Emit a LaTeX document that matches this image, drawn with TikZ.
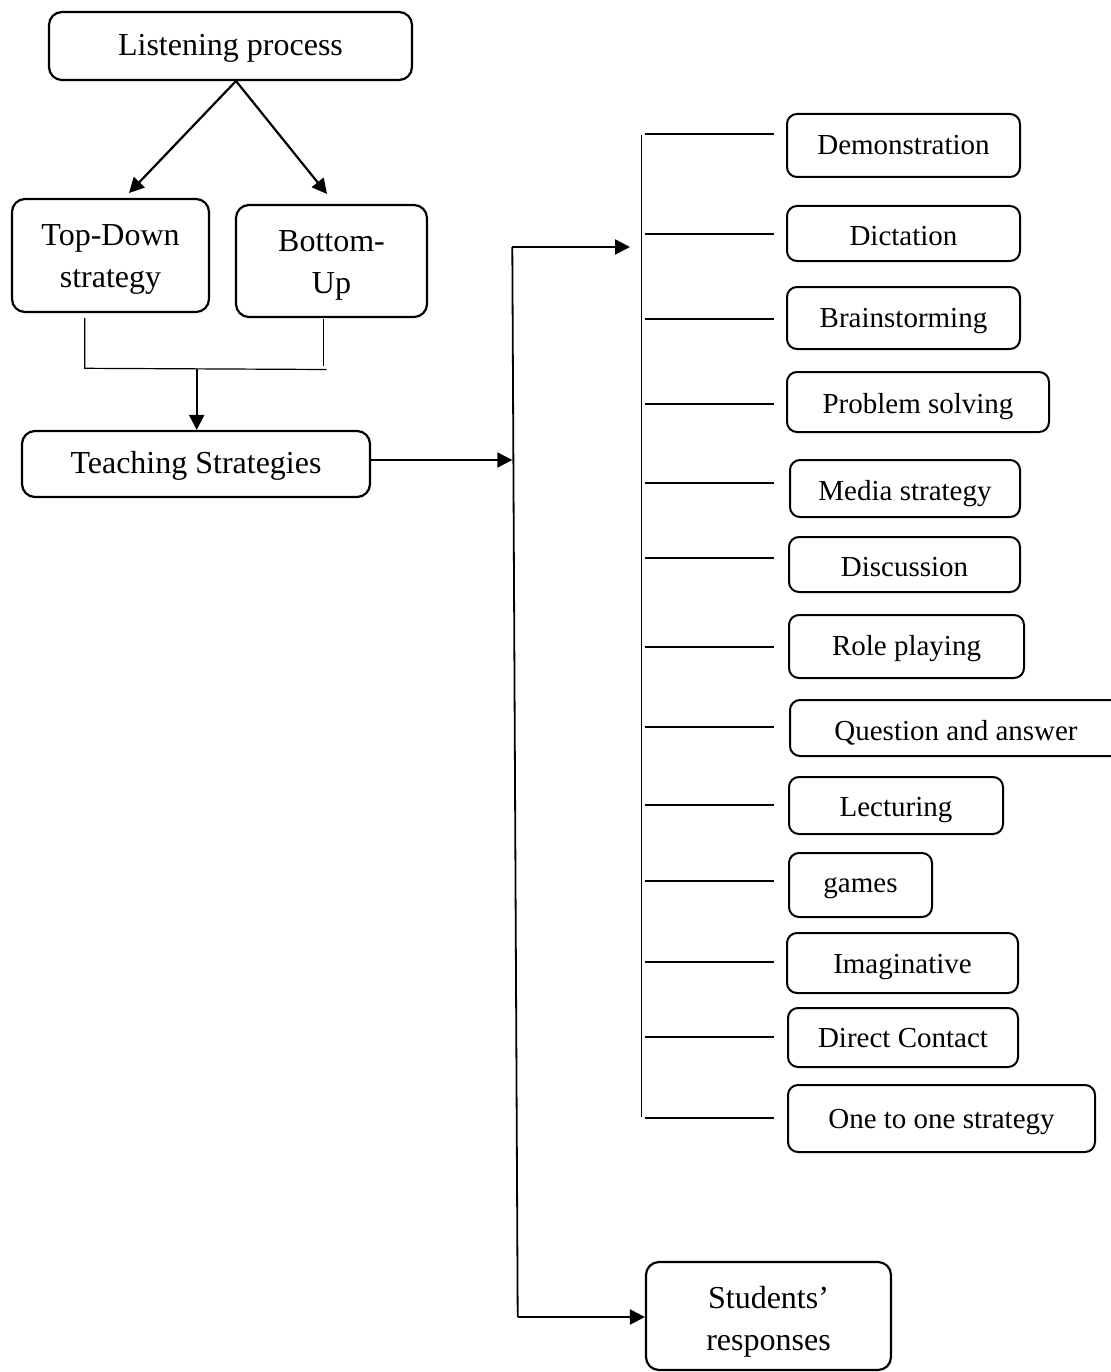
\documentclass[tikz,border=0pt]{standalone}
\usepackage{fontspec}
\setmainfont{Liberation Serif}
\usetikzlibrary{arrows.meta}
\newcommand\bltxt[2]{\raisebox{-#1pt}[0pt][0pt]{#2}}
\newcommand\twoline[3]{\raisebox{#1pt}[0pt][0pt]{\begin{tabular}[t]{@{}c@{}}#2\\#3\end{tabular}}}
\begin{document}
\begin{tikzpicture}[x=1pt,y=-1pt,
  box/.style={draw,line width=2.2pt,rounded corners=13pt,inner sep=0pt,font=\fontsize{32}{42}\selectfont},
  sbox/.style={draw,line width=2pt,rounded corners=10pt,inner sep=0pt,font=\fontsize{29}{36}\selectfont},
  thinline/.style={line width=1.2pt},
  midline/.style={line width=1.8pt},
  arr/.style={line width=2.2pt,-{Triangle[length=15pt,width=15pt]}}]
\useasboundingbox (0,0) rectangle (1110,1372);

% left part
\node[box,minimum width=363pt,minimum height=68pt] (listen) at (230.5,46) {\bltxt{9.5}{Listening process}};
\node[box,minimum width=197pt,minimum height=113pt] (td) at (110.5,255.5) {\twoline{10.5}{Top-Down}{strategy}};
\node[box,minimum width=191pt,minimum height=112pt] (bu) at (331.5,261) {\twoline{9.3}{Bottom-}{Up}};
\node[box,minimum width=348pt,minimum height=66pt] (teach) at (196,464) {\bltxt{9.5}{Teaching Strategies}};

\coordinate (apex) at (236,81);
\coordinate (tdin) at (129,193);
\coordinate (buin) at (327,194);
\draw[arr] (apex) -- (tdin);
\draw[arr] (apex) -- (buin);

\coordinate (tdout) at (84.7,318);
\coordinate (buout) at (323.3,319);
\coordinate (jl) at (84.7,368.3);
\coordinate (jr) at (326.7,369.5);
\coordinate (jm) at (196.7,369);
\draw[thinline] (tdout) -- (jl) -- (jr);
\draw[thinline] (buout) -- (323.3,366);
\draw[arr] (jm) -- (jm |- teach.north);

% main trunk
\coordinate (mtop) at (512.3,247);
\coordinate (mbot) at (517.7,1317);
\coordinate (bin) at (630,247);
\draw[midline] (mtop) -- (mbot);
\draw[arr] (mtop) -- (bin);
\draw[arr] (teach.east |- 0,460) -- (512.3,460);

% bracket
\coordinate (btop) at (641.7,135);
\coordinate (bbot) at (641.7,1117);
\draw[thinline] (btop) -- (bbot);

\foreach \n/\t/\xa/\xb/\ya/\yb/\yl/\dy in {
 1/Demonstration/787/1020/114/177/134/9.5,
 2/Dictation/787/1020/206/261/234/12,
 3/Brainstorming/787/1020/287/349/319/9.5,
 4/Problem solving/787/1049/372/432/404/11,
 5/Media strategy/790/1020/460/517/483/12,
 6/Discussion/789/1020/537/592/558/12,
 7/Role playing/789/1024/615/678/647/9,
 8/Question and answer/790/1122/700/756/727/12,
 9/Lecturing/789/1003/777/834/805/11,
 10/games/789/932/853/917/881/7.5,
 11/Imaginative/787/1018/933/993/962/10.5,
 12/Direct Contact/788/1018/1008/1067/1037/9.5,
 13/One to one strategy/788/1095/1085/1152/1118/10}
{
  \node[sbox,minimum width={\xb pt-\xa pt},minimum height={\yb pt-\ya pt}] (r\n) at ({(\xa+\xb)/2},{(\ya+\yb)/2}) {\bltxt{\dy}{\t}};
  \coordinate (bl\n) at (645,\yl);
  \coordinate (br\n) at (774,\yl);
  \draw[thinline] (bl\n) -- (br\n);
}

% students
\node[box,minimum width=245pt,minimum height=108pt] (stud) at (768.5,1316) {\twoline{7.8}{Students’}{responses}};
\draw[arr] (mbot) -- (mbot -| stud.west);
\end{tikzpicture}
\end{document}
